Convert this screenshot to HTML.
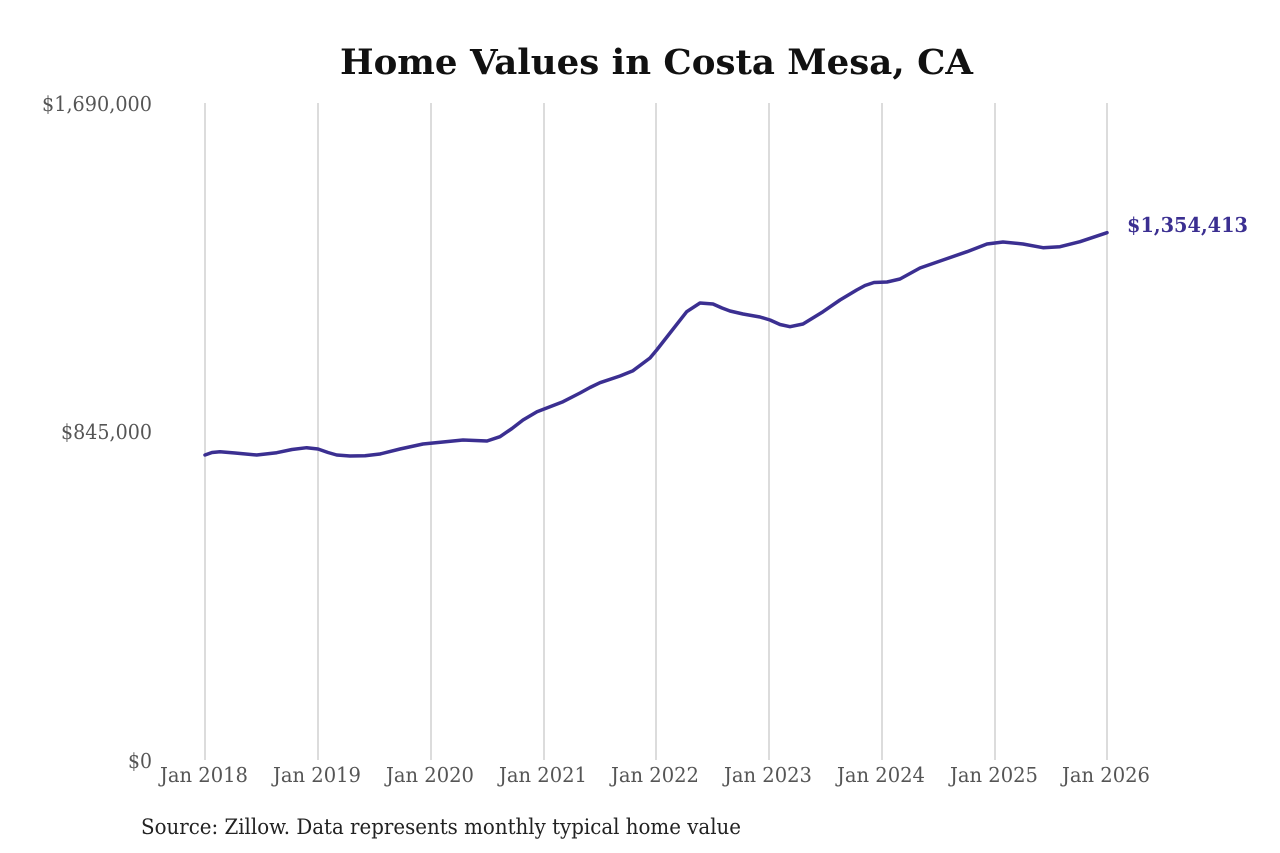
<!DOCTYPE html>
<html>
<head>
<meta charset="utf-8">
<style>
  html, body { margin: 0; padding: 0; background: #ffffff; }
  svg { display: block; }
  text { font-family: "DejaVu Serif", "Liberation Serif", serif; }
</style>
</head>
<body>
<svg width="1280" height="853" viewBox="0 0 1280 853" xmlns="http://www.w3.org/2000/svg">
  <rect width="1280" height="853" fill="#ffffff"/>
  <!-- Title -->
  <text x="656.5" y="74" text-anchor="middle" font-size="34.5" font-weight="bold" fill="#111111" textLength="633" lengthAdjust="spacingAndGlyphs">Home Values in Costa Mesa, CA</text>

  <!-- vertical gridlines -->
  <g stroke="#c4c4c4" stroke-width="1.2">
    <line x1="205" y1="103" x2="205" y2="760"/>
    <line x1="318" y1="103" x2="318" y2="760"/>
    <line x1="431" y1="103" x2="431" y2="760"/>
    <line x1="544" y1="103" x2="544" y2="760"/>
    <line x1="656" y1="103" x2="656" y2="760"/>
    <line x1="769" y1="103" x2="769" y2="760"/>
    <line x1="882" y1="103" x2="882" y2="760"/>
    <line x1="995" y1="103" x2="995" y2="760"/>
    <line x1="1107" y1="103" x2="1107" y2="760"/>
  </g>

  <!-- y labels -->
  <g font-size="20.5" fill="#555555" text-anchor="end">
    <text x="152" y="111" textLength="110" lengthAdjust="spacingAndGlyphs">$1,690,000</text>
    <text x="152" y="439" textLength="91" lengthAdjust="spacingAndGlyphs">$845,000</text>
    <text x="152" y="768" textLength="24" lengthAdjust="spacingAndGlyphs">$0</text>
  </g>

  <!-- x labels -->
  <g font-size="20.5" fill="#555555" text-anchor="middle">
    <text x="204" y="782" textLength="88" lengthAdjust="spacingAndGlyphs">Jan 2018</text>
    <text x="317" y="782" textLength="88" lengthAdjust="spacingAndGlyphs">Jan 2019</text>
    <text x="430" y="782" textLength="88" lengthAdjust="spacingAndGlyphs">Jan 2020</text>
    <text x="543" y="782" textLength="88" lengthAdjust="spacingAndGlyphs">Jan 2021</text>
    <text x="655" y="782" textLength="88" lengthAdjust="spacingAndGlyphs">Jan 2022</text>
    <text x="768" y="782" textLength="88" lengthAdjust="spacingAndGlyphs">Jan 2023</text>
    <text x="881" y="782" textLength="88" lengthAdjust="spacingAndGlyphs">Jan 2024</text>
    <text x="994" y="782" textLength="88" lengthAdjust="spacingAndGlyphs">Jan 2025</text>
    <text x="1106" y="782" textLength="88" lengthAdjust="spacingAndGlyphs">Jan 2026</text>
  </g>

  <!-- data line -->
  <polyline fill="none" stroke="#3b2f91" stroke-width="3.5" stroke-linejoin="round" stroke-linecap="round"
    points="205,455 212,452.5 220,451.7 235,453 256.7,455 276.7,452.7 292,449.5 306.7,447.7 318,449 328,452.5 336.7,455 350,456 365,455.8 380,454 400,449 423,444 443,442 463,440 475,440.5 487,441 500,436.7 512,428.5 523,420 537,411.7 550,406.7 563,401.7 580,393 590,387.5 600,382.7 620,376 633,370.7 650,358 656.7,350 670,333 686.7,311.7 700,303 713,304 722,308 730,311 743,314 760,317 770,320 780,324.5 790,326.7 803,324 823,311.7 840,300 856.7,290 865,285.5 874,282.5 887,282 900,279 920,268 943,260 967,251.7 987,244 1003,242 1023,244 1043,247.7 1060,246.7 1080,241.7 1107,232.7"/>

  <!-- end annotation -->
  <text x="1127" y="232" font-size="20.5" font-weight="bold" fill="#3b2f91" textLength="121" lengthAdjust="spacingAndGlyphs">$1,354,413</text>

  <!-- source -->
  <text x="141" y="834" font-size="21" fill="#222222" textLength="600" lengthAdjust="spacingAndGlyphs">Source: Zillow. Data represents monthly typical home value</text>
</svg>
</body>
</html>
